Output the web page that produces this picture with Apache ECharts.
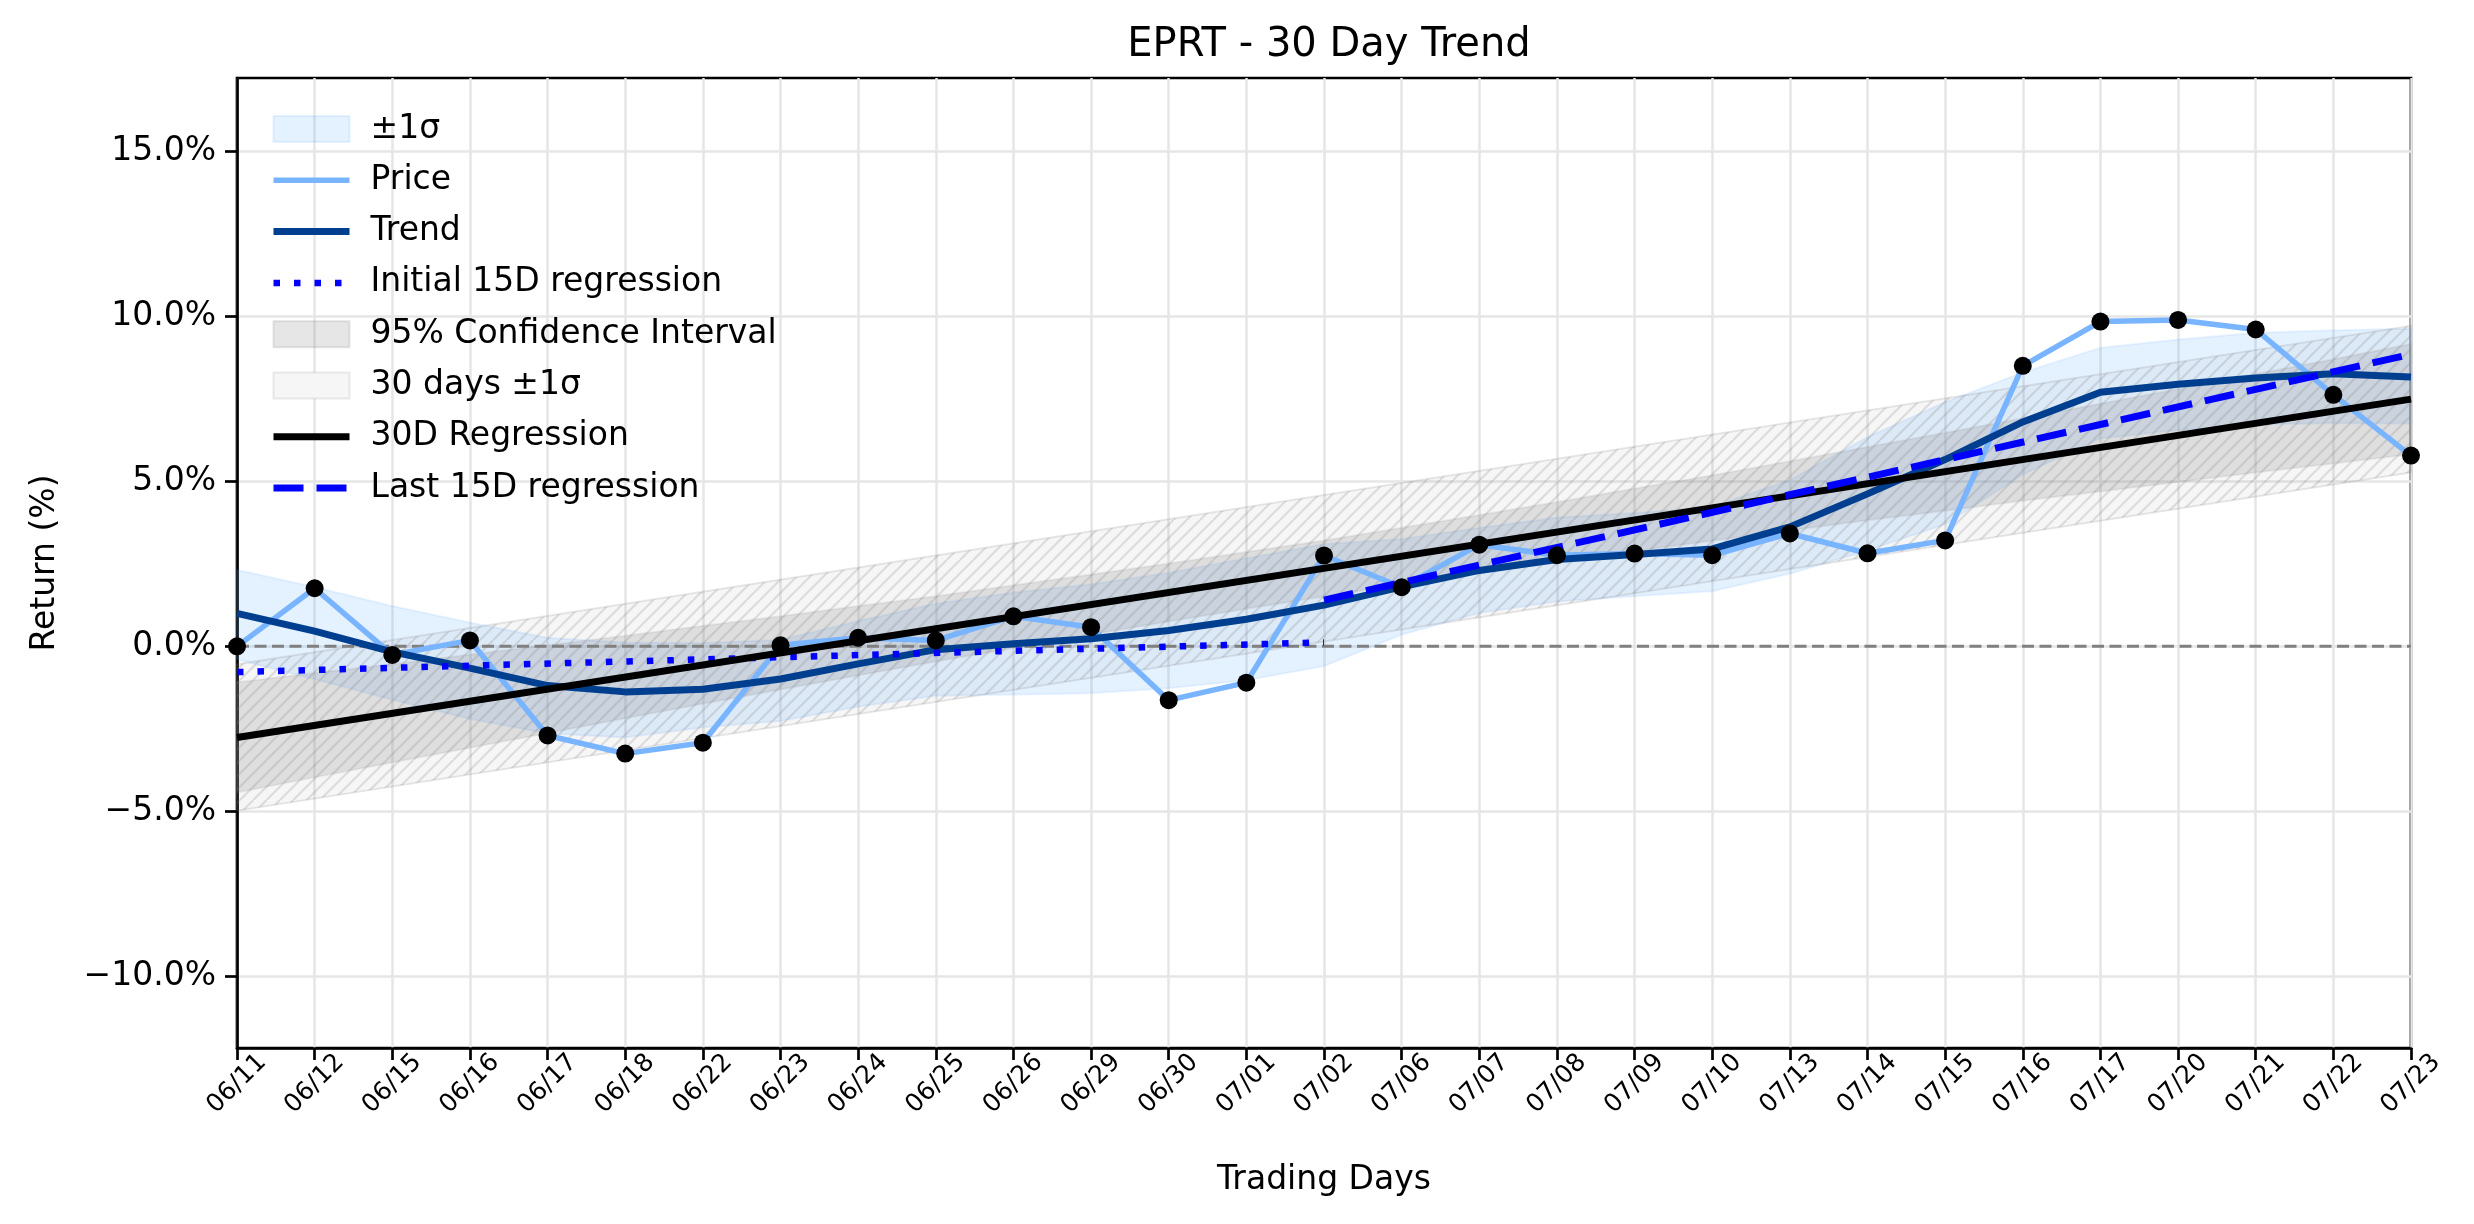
<!DOCTYPE html>
<html>
<head>
<meta charset="utf-8">
<script src="https://cdn.jsdelivr.net/npm/echarts@6/dist/echarts.min.js"></script>
<style>
  html, body { margin: 0; padding: 0; background: #fff; }
  #chart { width: 2474px; height: 1224px; }
</style>
</head>
<body>
<div id="chart"></div>
<script>
// trading days on the x axis
const days = ['06/11', '06/12', '06/15', '06/16', '06/17', '06/18', '06/22', '06/23', '06/24', '06/25',
    '06/26', '06/29', '06/30', '07/01', '07/02', '07/06', '07/07', '07/08', '07/09', '07/10',
    '07/13', '07/14', '07/15', '07/16', '07/17', '07/20', '07/21', '07/22', '07/23']

// cumulative return (%)
const price = [0.00, 1.76, -0.26, 0.18, -2.70, -3.25, -2.92, 0.03, 0.26, 0.18,
    0.91, 0.58, -1.63, -1.10, 2.75, 1.79, 3.08, 2.76, 2.81, 2.76,
    3.42, 2.82, 3.21, 8.50, 9.84, 9.89, 9.60, 7.62, 5.78]

const trend = [1.00, 0.46, -0.17, -0.66, -1.19, -1.38, -1.30, -0.99, -0.53, -0.10,
    0.08, 0.23, 0.48, 0.82, 1.25, 1.80, 2.30, 2.63, 2.78, 2.95,
    3.62, 4.62, 5.66, 6.80, 7.70, 7.94, 8.13, 8.26, 8.16]

// +-1 sigma band round the trend
const sigmaUpper = [2.32, 1.80, 1.22, 0.72, 0.26, 0.12, 0.10, 0.20, 0.77, 1.30,
    1.63, 1.88, 2.23, 2.67, 3.10, 3.25, 3.59, 3.90, 4.04, 4.23,
    5.04, 6.34, 7.40, 8.30, 9.05, 9.30, 9.50, 9.58, 9.62]
const sigmaLower = [-0.40, -1.00, -1.62, -2.20, -2.64, -2.76, -2.46, -2.26, -1.83, -1.50,
    -1.47, -1.42, -1.27, -1.03, -0.60, 0.35, 1.01, 1.36, 1.52, 1.67,
    2.20, 2.90, 3.70, 5.20, 6.30, 6.55, 6.72, 6.76, 6.75]

// 95% confidence interval of the 30D regression
const ciUpper = [-1.09, -0.81, -0.54, -0.25, 0.03, 0.32, 0.62, 0.91, 1.22, 1.52,
    1.85, 2.18, 2.51, 2.86, 3.21, 3.59, 3.98, 4.37, 4.78, 5.18,
    5.61, 6.04, 6.47, 6.91, 7.35, 7.80, 8.25, 8.70, 9.16]
const ciLower = [-4.43, -3.97, -3.52, -3.07, -2.63, -2.18, -1.74, -1.31, -0.88, -0.46,
    -0.05, 0.36, 0.75, 1.14, 1.51, 1.87, 2.22, 2.55, 2.88, 3.20,
    3.51, 3.82, 4.11, 4.41, 4.69, 4.98, 5.27, 5.54, 5.82]

// straight lines: [day index, value] at both ends
const reg30 = [[0, -2.76], [28, 7.49]]
const band30Upper = [[0, -0.54], [28, 9.71]]
const band30Lower = [[0, -4.98], [28, 5.27]]
const regFirst15 = [[0, -0.78], [14, 0.12]]
const regLast15 = [[14, 1.40], [28, 8.85]]

const yTicks = [-10, -5, 0, 5, 10, 15]

const FONT = 'DejaVu Sans'
const chart = echarts.init(document.getElementById('chart'))

// hatch tile for the "30 days" band
const hatch = document.createElement('canvas')
hatch.width = 40
hatch.height = 40
const hctx = hatch.getContext('2d')
hctx.strokeStyle = 'rgba(128,128,128,0.24)'
hctx.lineWidth = 2
for (let k = -40; k <= 80; k += 13.333) {
    hctx.beginPath()
    hctx.moveTo(k - 40, 40)
    hctx.lineTo(k, 0)
    hctx.stroke()
}
const hatchFill = { image: hatch, repeat: 'repeat' }

function toPairs(arr) {
    return arr.map((v, i) => [i, v])
}

function bandSeries(name, upper, lower, styles) {
    return {
        type: 'custom',
        name: name,
        silent: true,
        z: 2,
        data: [[0, 0]],
        renderItem: (params, api) => {
            const pts = []
            upper.forEach(p => pts.push(api.coord(p)))
            for (let i = lower.length - 1; i >= 0; i--) pts.push(api.coord(lower[i]))
            return {
                type: 'group',
                children: styles.map(s => ({ type: 'polygon', shape: { points: pts }, style: s }))
            }
        }
    }
}

// line entries in the legend: hide the symbol, keep the line
const noSymbol = { opacity: 0 }

const option = {
    animation: false,
    backgroundColor: '#ffffff',
    title: {
        text: 'EPRT - 30 Day Trend',
        left: 1324,
        top: 21,
        textAlign: 'center',
        textStyle: { fontFamily: FONT, fontSize: 40, fontWeight: 'normal', color: '#000' }
    },
    grid: {
        left: 237, right: 63, top: 78, bottom: 176,
        show: true, borderColor: '#000', borderWidth: 2.7, backgroundColor: 'transparent'
    },
    legend: {
        orient: 'vertical',
        left: 265,
        top: 104,
        itemWidth: 76,
        itemHeight: 26,
        itemGap: 11.3,
        selectedMode: false,
        lineStyle: { width: 'inherit', type: 'inherit' },
        textStyle: { fontFamily: FONT, fontSize: 33, color: '#000', lineHeight: 40, padding: [0, 0, 0, 16] },
        data: [
            { name: '±1σ', icon: 'rect', itemStyle: { color: 'rgba(74,158,255,0.15)', borderColor: 'rgba(74,158,255,0.12)', borderWidth: 2 } },
            { name: 'Price', itemStyle: noSymbol },
            { name: 'Trend', itemStyle: noSymbol },
            { name: 'Initial 15D regression', itemStyle: noSymbol },
            { name: '95% Confidence Interval', icon: 'rect', itemStyle: { color: 'rgba(128,128,128,0.2)', borderColor: 'rgba(128,128,128,0.2)', borderWidth: 2 } },
            { name: '30 days ±1σ', icon: 'rect', itemStyle: { color: '#f6f6f6', borderColor: 'rgba(128,128,128,0.15)', borderWidth: 2 } },
            { name: '30D Regression', itemStyle: noSymbol },
            { name: 'Last 15D regression', itemStyle: noSymbol }
        ]
    },
    xAxis: {
        type: 'category',
        data: days,
        boundaryGap: false,
        name: 'Trading Days',
        nameLocation: 'middle',
        nameGap: 116,
        nameTextStyle: { fontFamily: FONT, fontSize: 33, color: '#000' },
        axisLine: { onZero: false, lineStyle: { color: '#000', width: 2.7 } },
        axisTick: { length: 12, lineStyle: { color: '#000', width: 2.7 } },
        axisLabel: {
            interval: 0, rotate: 45, margin: 36, align: 'center', verticalAlign: 'middle',
            fontFamily: FONT, fontSize: 25, color: '#000'
        },
        splitLine: { show: true, lineStyle: { color: '#e6e6e6', width: 2.5 } }
    },
    yAxis: {
        type: 'value',
        min: -12.17,
        max: 17.22,
        name: 'Return (%)',
        nameLocation: 'middle',
        nameGap: 175,
        nameTextStyle: { fontFamily: FONT, fontSize: 33, color: '#000' },
        axisLine: { show: true, lineStyle: { color: '#000', width: 2.7 } },
        axisTick: { show: true, length: 12, customValues: yTicks, lineStyle: { color: '#000', width: 2.7 } },
        axisLabel: {
            customValues: yTicks, margin: 21, fontFamily: FONT, fontSize: 33, color: '#000',
            formatter: v => (v < 0 ? '\u2212' : '') + Math.abs(v).toFixed(1) + '%'
        },
        splitLine: { show: true, lineStyle: { color: '#e6e6e6', width: 2.5 } }
    },
    series: [
        bandSeries('±1σ', toPairs(sigmaUpper), toPairs(sigmaLower), [
            { fill: 'rgba(74,158,255,0.15)', stroke: 'rgba(74,158,255,0.10)', lineWidth: 2 }
        ]),
        bandSeries('95% Confidence Interval', toPairs(ciUpper), toPairs(ciLower), [
            { fill: 'rgba(128,128,128,0.2)', stroke: 'rgba(128,128,128,0.12)', lineWidth: 2 }
        ]),
        bandSeries('30 days ±1σ', band30Upper, band30Lower, [
            { fill: 'rgba(128,128,128,0.07)', stroke: 'rgba(128,128,128,0.18)', lineWidth: 2 },
            { fill: hatchFill }
        ]),
        {
            type: 'line', name: 'zero', data: [[0, 0], [28, 0]], symbol: 'none', silent: true, z: 3,
            lineStyle: { color: '#808080', width: 3, type: [12, 5.5] }
        },
        {
            type: 'line', name: 'Price', data: price, symbol: 'none', z: 4,
            itemStyle: { color: '#78b4ff' },
            lineStyle: { color: '#78b4ff', width: 5.5 }
        },
        {
            type: 'line', name: 'Trend', data: trend, symbol: 'none', z: 4,
            itemStyle: { color: '#003f8f' },
            lineStyle: { color: '#003f8f', width: 7 }
        },
        {
            type: 'line', name: 'Initial 15D regression', data: regFirst15, symbol: 'none', z: 4,
            itemStyle: { color: '#0000ff' },
            lineStyle: { color: '#0000ff', width: 6.5, type: [6.5, 14] }
        },
        {
            type: 'line', name: '30D Regression', data: reg30, symbol: 'none', z: 4,
            itemStyle: { color: '#000' },
            lineStyle: { color: '#000', width: 7 }
        },
        {
            type: 'line', name: 'Last 15D regression', data: regLast15, symbol: 'none', z: 4,
            itemStyle: { color: '#0000ff' },
            lineStyle: { color: '#0000ff', width: 7, type: [30, 13] }
        },
        {
            type: 'scatter', name: 'points', data: price, symbol: 'circle', symbolSize: 18, z: 5,
            itemStyle: { color: '#000', opacity: 1 }
        }
    ]
}

chart.setOption(option)
</script>
</body>
</html>
